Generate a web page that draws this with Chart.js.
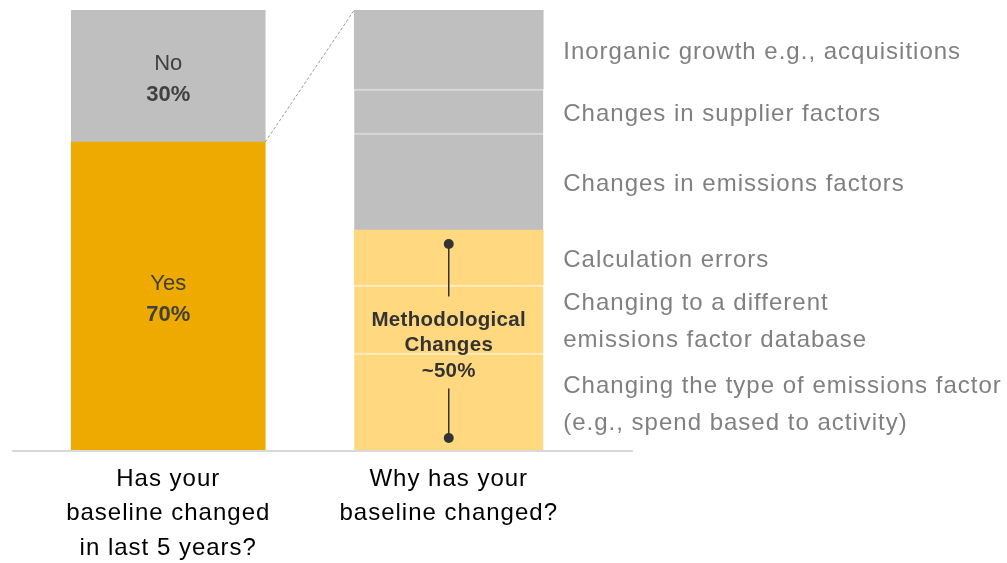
<!DOCTYPE html>
<html>
<head>
<meta charset="utf-8">
<script src="https://cdn.jsdelivr.net/npm/chart.js@4"></script>
<style>
html,body{margin:0;padding:0;background:#fff;}
#wrap{width:1007px;height:563px;position:relative;}
</style>
</head>
<body>
<div id="wrap"><canvas id="c" width="1007" height="563"></canvas></div>
<script>
// ── 데이터 ──
const categories=[["Has your","baseline changed","in last 5 years?"],["Why has your","baseline changed?"]];
const answerLabels=["Yes","No"];
const answerValues=[70,30];
// 아래에서 위 순서
const reasonLabels=[
  ["Changing the type of emissions factor","(e.g., spend based to activity)"],
  ["Changing to a different","emissions factor database"],
  ["Calculation errors"],
  ["Changes in emissions factors"],
  ["Changes in supplier factors"],
  ["Inorganic growth e.g., acquisitions"]
];
const reasonValues=[22,15.5,12.5,22,10,18];
const reasonMethod=[true,true,true,false,false,false];
const methodText=["Methodological","Changes","~50%"];

const ORANGE="#EFAA00",GREY="#BFBFBF",YELLOW="#FFD87F";
const FONT="'Liberation Sans', Arial, sans-serif";

const datasets=[];
answerLabels.forEach((l,i)=>{
  datasets.push({label:l,data:[answerValues[i],null],backgroundColor:i===0?ORANGE:GREY,
    borderWidth:0,stack:"s",barThickness:194,_kind:"answer"});
});
reasonLabels.forEach((l,i)=>{
  // 같은 그룹 안에서 위쪽 경계선만 (그룹 최상단 제외)
  const sep=i<reasonLabels.length-1&&reasonMethod[i]===reasonMethod[i+1];
  datasets.push({label:l.join(" "),data:[null,reasonValues[i]],backgroundColor:reasonMethod[i]?YELLOW:GREY,
    borderColor:reasonMethod[i]?"#FFECC0":"#D9D9D9",borderWidth:sep?{top:2,bottom:0,left:0,right:0}:0,
    borderSkipped:false,stack:"s",barThickness:189,_kind:"reason",_lines:l});
});

const overlay={
  id:"overlay",
  beforeDraw(chart){chart.ctx.letterSpacing="1px";},
  afterDatasetsDraw(chart){
    const ctx=chart.ctx,y0=chart.scales.y.getPixelForValue(0);
    ctx.save();
    // 바닥선
    ctx.strokeStyle="#D9D9D9";ctx.lineWidth=2;
    ctx.beginPath();ctx.moveTo(12,y0+1);ctx.lineTo(633,y0+1);ctx.stroke();
    ctx.textAlign="center";ctx.textBaseline="middle";
    // 왼쪽 막대 라벨
    ctx.letterSpacing="0px";
    chart.data.datasets.forEach((ds,i)=>{
      if(ds._kind!=="answer")return;
      const b=chart.getDatasetMeta(i).data[0],cy=(b.y+b.base)/2+1;
      ctx.fillStyle="#404040";
      ctx.font="22px "+FONT;ctx.fillText(ds.label,b.x,cy-13);
      ctx.font="bold 22px "+FONT;ctx.fillText(ds.data[0]+"%",b.x,cy+18);
    });
    // 오른쪽 설명
    ctx.letterSpacing="1px";
    ctx.textAlign="left";ctx.fillStyle="#808080";ctx.font="24px "+FONT;
    let mTop=Infinity,mBot=-Infinity,topEl=null,mx=0;
    chart.data.datasets.forEach((ds,i)=>{
      if(ds._kind!=="reason")return;
      const b=chart.getDatasetMeta(i).data[1],cy=(b.y+b.base)/2+3;
      const lh=37,n=ds._lines.length;
      ds._lines.forEach((t,k)=>ctx.fillText(t,b.x+b.width/2+20,cy+(k-(n-1)/2)*lh));
      if(reasonMethod[i-answerLabels.length]){mTop=Math.min(mTop,b.y);mBot=Math.max(mBot,b.base);mx=b.x;}
      if(!topEl||b.y<topEl.y)topEl=b;
    });
    // 방법론 변경 주석
    const cy=(mTop+mBot)/2+5.5;
    ctx.strokeStyle="#333";ctx.fillStyle="#333";ctx.lineWidth=1.5;
    ctx.beginPath();ctx.moveTo(mx,mTop+14);ctx.lineTo(mx,cy-49);ctx.stroke();
    ctx.beginPath();ctx.moveTo(mx,cy+43);ctx.lineTo(mx,mBot-12);ctx.stroke();
    [mTop+14,mBot-12].forEach(y=>{ctx.beginPath();ctx.arc(mx,y,5,0,Math.PI*2);ctx.fill();});
    ctx.textAlign="center";ctx.font="bold 20.5px "+FONT;ctx.letterSpacing="0.3px";
    methodText.forEach((t,k)=>ctx.fillText(t,mx,cy+(k-1)*25.5));
    // 연결 점선
    const yes=chart.getDatasetMeta(0).data[0];
    ctx.strokeStyle="#9a9a9a";ctx.lineWidth=1;ctx.setLineDash([3,2]);
    ctx.beginPath();ctx.moveTo(yes.x+yes.width/2,yes.y);ctx.lineTo(topEl.x-topEl.width/2,topEl.y);ctx.stroke();
    ctx.restore();
  }
};

new Chart(document.getElementById("c"),{
  type:"bar",
  data:{labels:categories,datasets},
  options:{
    responsive:false,animation:false,
    layout:{padding:{top:10,left:28,right:418,bottom:0}},
    plugins:{legend:{display:false},tooltip:{enabled:false}},
    scales:{
      x:{stacked:true,grid:{display:false,drawTicks:false},border:{display:false},
        ticks:{color:"#000",padding:12,maxRotation:0,autoSkip:false,font:{family:FONT,size:24,lineHeight:1.44}},
        afterFit:s=>{s.height=113;}},
      y:{stacked:true,display:false,min:0,max:100}
    }
  },
  plugins:[overlay]
});
</script>
</body>
</html>
